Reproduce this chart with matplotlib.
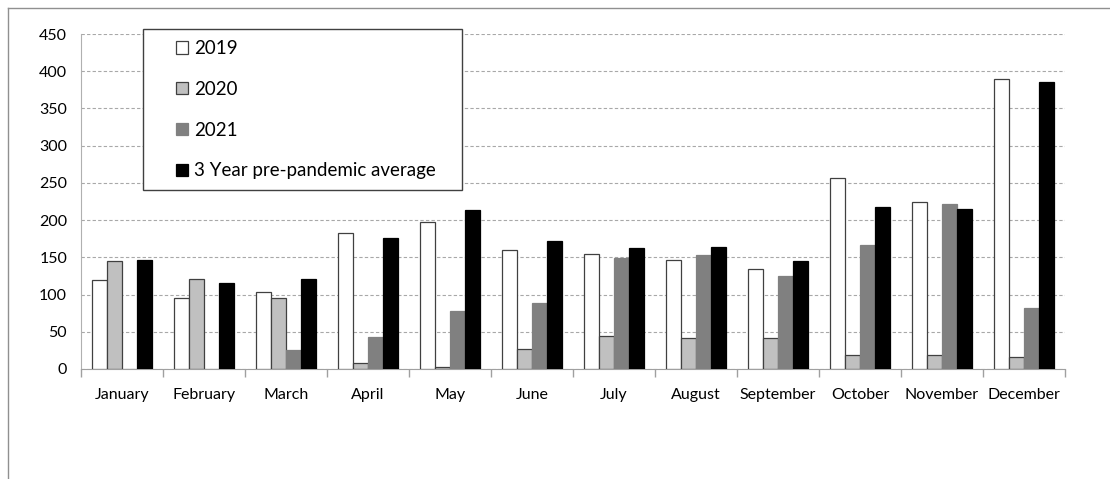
import matplotlib
matplotlib.use('Agg')
import matplotlib.pyplot as plt
from matplotlib.lines import Line2D
from matplotlib.patches import Rectangle
import numpy as np

plt.rcParams['font.family'] = ['Lato', 'DejaVu Sans']

months = ['January', 'February', 'March', 'April', 'May', 'June', 'July',
          'August', 'September', 'October', 'November', 'December']
y2019 = [120, 96, 104, 183, 198, 160, 154, 146, 135, 256, 225, 389]
y2020 = [145, 121, 95, 8, 3, 27, 44, 41, 41, 19, 19, 16]
y2021 = [0, 0, 25, 43, 78, 88, 149, 153, 125, 166, 222, 82]
avg_pre = [146, 115, 121, 176, 213, 172, 163, 164, 145, 217, 215, 385]

series = [
    ('2019', y2019, 'white', '#404040'),
    ('2020', y2020, '#c0c0c0', '#404040'),
    ('2021', y2021, '#808080', '#808080'),
    ('3 Year pre-pandemic average', avg_pre, 'black', 'black'),
]

W, H = 1110, 479
fig = plt.figure(figsize=(W / 100, H / 100), dpi=100)
ax = fig.add_axes([81 / W, 1 - 369 / H, (1065 - 81) / W, (369 - 34) / H])

x = np.arange(len(months))
bw = 0.183
for i, (name, vals, fc, ec) in enumerate(series):
    ax.bar(x + (i - 1.5) * bw, vals, width=bw, color=fc, edgecolor=ec,
           linewidth=0.9, label=name, zorder=3)

ax.set_xlim(-0.5, len(months) - 0.5)
ax.set_ylim(0, 450)
ax.set_yticks(np.arange(0, 451, 50))
ax.set_xticks(x)
ax.set_xticklabels(months, fontsize=11.5)
ax.set_xticks(np.arange(-0.5, len(months), 1), minor=True)
ax.tick_params(axis='x', which='major', length=0, pad=14)
ax.tick_params(axis='x', which='minor', length=6, color='#a0a0a0', width=1)
ax.tick_params(axis='y', length=0, labelsize=11.5, pad=10)

ax.grid(axis='y', linestyle=(0, (3, 2)), color='#a8a8a8', linewidth=0.8, zorder=0)
for s in ['top', 'right']:
    ax.spines[s].set_visible(False)
ax.spines['left'].set_color('#b0b0b0')
ax.spines['bottom'].set_color('#a0a0a0')

# legend box drawn separately so it can be wider than its contents
box = Rectangle((143 / W, 1 - 190 / H), (462 - 143) / W, (190 - 29) / H,
                transform=fig.transFigure, facecolor='white',
                edgecolor='#404040', linewidth=1.0, zorder=2)
fig.add_artist(box)
handles, labels = ax.get_legend_handles_labels()
leg = fig.legend(handles, labels, loc='upper left',
                 bbox_to_anchor=(176 / W, 1 - 40 / H),
                 bbox_transform=fig.transFigure, borderaxespad=0, borderpad=0,
                 fontsize=13.5, frameon=False,
                 handlelength=0.65, handleheight=0.65, handletextpad=0.3,
                 labelspacing=1.27)
leg.set_zorder(3)

# outer chart border (only top and left fall inside the image)
fig.add_artist(Line2D([8 / W, 8 / W], [0, 1 - 8 / H], transform=fig.transFigure,
                      color='#909090', linewidth=1))
fig.add_artist(Line2D([8 / W, 1], [1 - 8 / H, 1 - 8 / H], transform=fig.transFigure,
                      color='#909090', linewidth=1))

fig.savefig('out.png', dpi=100)
